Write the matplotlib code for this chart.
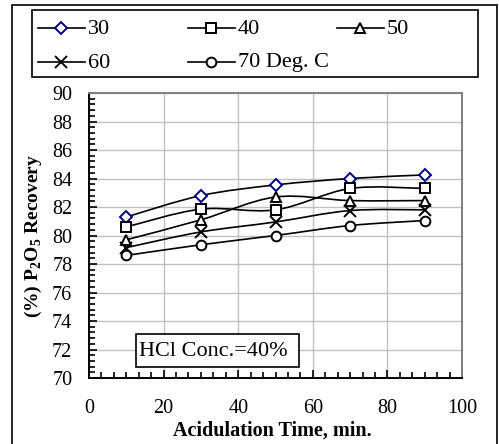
import matplotlib
matplotlib.use("Agg")
import matplotlib.pyplot as plt
from matplotlib.path import Path
from matplotlib.patches import PathPatch, Rectangle
from matplotlib.lines import Line2D
from matplotlib.ticker import MultipleLocator

plt.rcParams['font.family'] = ['Liberation Serif', 'DejaVu Serif']
plt.rcParams['mathtext.fontset'] = 'custom'
plt.rcParams['mathtext.rm'] = 'Liberation Serif'
plt.rcParams['mathtext.bf'] = 'Liberation Serif:bold'

# data
time_min = [10, 30, 50, 70, 90]
rec_30 = [81.3, 82.8, 83.55, 84.0, 84.25]
rec_40 = [80.6, 81.85, 81.8, 83.3, 83.3]
rec_50 = [79.7, 81.1, 82.7, 82.45, 82.45]
rec_60 = [79.15, 80.25, 80.95, 81.75, 81.8]
rec_70 = [78.6, 79.35, 80.0, 80.7, 81.05]
labels = ['30', '40', '50', '60', '70 Deg. C']

series = [rec_30, rec_40, rec_50, rec_60, rec_70]
markers = ['D', 's', '^', 'x', 'o']
msizes = [6.5, 6.5, 7, 8, 7]
mcolors = ['#000080', 'black', 'black', 'black', 'black']

W, H = 499, 444


def fx(x):
    return x / W


def fy(y):
    return 1 - y / H


def smooth_path(xs, ys):
    # excel-like smoothed line: cubic bezier through the points
    pts = list(zip(xs, ys))
    verts = [pts[0]]
    codes = [Path.MOVETO]
    n = len(pts)
    for i in range(n - 1):
        p0 = pts[i - 1] if i > 0 else pts[i]
        p1 = pts[i]
        p2 = pts[i + 1]
        p3 = pts[i + 2] if i + 2 < n else pts[i + 1]
        c1 = (p1[0] + (p2[0] - p0[0]) / 6, p1[1] + (p2[1] - p0[1]) / 6)
        c2 = (p2[0] - (p3[0] - p1[0]) / 6, p2[1] - (p3[1] - p1[1]) / 6)
        verts += [c1, c2, p2]
        codes += [Path.CURVE4] * 3
    return Path(verts, codes)


fig = plt.figure(figsize=(W / 100, H / 100), dpi=100)
ax = fig.add_axes([fx(89), fy(378), (462 - 89) / W, (378 - 93) / H])

for ys, m, ms, mc in zip(series, markers, msizes, mcolors):
    ax.add_patch(PathPatch(smooth_path(time_min, ys), fill=False,
                           edgecolor='black', lw=1.2, zorder=3))
    ax.plot(time_min, ys, linestyle='none', marker=m, ms=ms, mfc='white',
            mec=mc, mew=1.4, zorder=4)

ax.set_xlim(0, 100)
ax.set_ylim(70, 90)
ax.xaxis.set_major_locator(MultipleLocator(20))
ax.xaxis.set_minor_locator(MultipleLocator(20 / 6))
ax.yaxis.set_major_locator(MultipleLocator(2))
ax.yaxis.set_minor_locator(MultipleLocator(0.4))
ax.grid(True, which='major', color='#c0c0c0', lw=1)
ax.set_axisbelow(True)
ax.tick_params(which='both', direction='in', width=1.2, colors='black',
               labelsize=14.5, pad=12)
ax.tick_params(which='major', length=5.5)
ax.tick_params(which='minor', length=4)
ax.tick_params(axis='x', pad=15)
ax.spines['left'].set_linewidth(1.4)
ax.spines['bottom'].set_linewidth(1.4)
ax.spines['top'].set_color('#808080')
ax.spines['right'].set_color('#808080')
ax.spines['top'].set_linewidth(1.4)
ax.spines['right'].set_linewidth(1.4)

fig.text(fx(33), fy(236), r'(%) P$_\mathbf{2}$O$_\mathbf{5}$ Recovery',
         rotation=90, ha='center', va='center', fontsize=14, fontweight='bold')
fig.text(fx(272), fy(431), 'Acidulation Time, min.', ha='center',
         va='center', fontsize=14.5, fontweight='bold')

# annotation box
fig.patches.append(Rectangle((fx(136), fy(367)), (299 - 136) / W, (367 - 334) / H,
                             transform=fig.transFigure, fill=True,
                             facecolor='white', edgecolor='black', lw=1.2,
                             zorder=5))
fig.text(fx(139), fy(351), 'HCl Conc.=40%', ha='left', va='center',
         fontsize=16, zorder=6)

# outer chart border
fig.patches.append(Rectangle((fx(12), fy(460)), (497 - 12) / W, (460 - 5) / H,
                             transform=fig.transFigure, fill=False,
                             edgecolor='black', lw=1.2))

# legend box
fig.patches.append(Rectangle((fx(32), fy(77)), (478 - 32) / W, (77 - 10) / H,
                             transform=fig.transFigure, fill=False,
                             edgecolor='black', lw=1.2))
leg_x = [38, 188, 337, 38, 188]
leg_y = [28, 28, 28, 62, 62]
for lab, m, ms, mc, lx, ly in zip(labels, markers, msizes, mcolors, leg_x, leg_y):
    fig.lines.append(Line2D([fx(lx), fx(lx + 47)], [fy(ly), fy(ly)],
                            transform=fig.transFigure, color='black', lw=1.2))
    fig.lines.append(Line2D([fx(lx + 23)], [fy(ly)], transform=fig.transFigure,
                            linestyle='none', marker=m, ms=ms, mfc='white',
                            mec=mc, mew=1.4))
    fig.text(fx(lx + 50), fy(ly + 1), lab, ha='left', va='center', fontsize=16)

fig.savefig('out.png', dpi=100)
